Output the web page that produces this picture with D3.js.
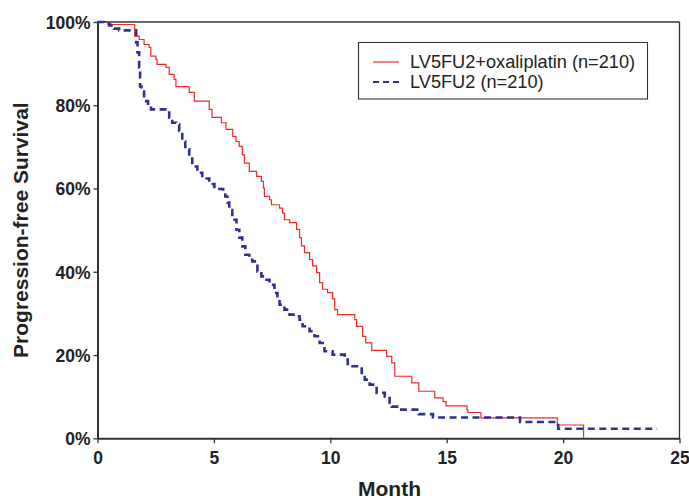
<!DOCTYPE html>
<html>
<head>
<meta charset="utf-8">
<script src="https://cdn.jsdelivr.net/npm/d3@7"></script>
<style>
  body { margin: 0; background: #fff; }
  svg { display: block; }
</style>
</head>
<body>
<svg id="chart" width="689" height="501"></svg>
<script>
// ---- data ----
const seriesNames = ["LV5FU2+oxaliplatin (n=210)", "LV5FU2 (n=210)"];
const xTicks = [0, 5, 10, 15, 20, 25];
const yTicks = [0, 20, 40, 60, 80, 100];

const oxaTime = [0, 0.57, 1.60, 1.79, 2.00, 2.22, 2.29, 2.51, 2.56, 2.94, 3.08, 3.29, 3.37, 3.94, 4.16, 4.80, 4.92, 5.32, 5.52, 5.81, 5.95, 6.09, 6.22, 6.31, 6.52, 6.83, 7.04, 7.13, 7.17, 7.39, 7.47, 7.82, 7.95, 8.03, 8.25, 8.55, 8.68, 8.76, 8.89, 9.11, 9.24, 9.41, 9.54, 9.67, 9.88, 10.10, 10.19, 10.31, 11.05, 11.13, 11.39, 11.52, 11.78, 12.42, 12.64, 12.77, 13.50, 13.80, 14.49, 14.84, 14.97, 15.87, 15.91, 16.47, 19.75, 20.88];
const oxaSurv = [100, 99.4, 96.6, 95.8, 94.6, 93.9, 91.8, 91.0, 89.8, 89.1, 87.4, 86.2, 84.5, 83.1, 81.0, 79.0, 77.1, 75.8, 74.2, 72.5, 71.3, 70.1, 68.1, 66.1, 64.1, 62.9, 61.7, 60.1, 58.1, 57.3, 56.1, 55.3, 54.1, 52.5, 51.8, 50.2, 48.2, 46.2, 44.6, 42.9, 41.4, 39.8, 37.4, 35.8, 35.0, 33.5, 30.9, 29.7, 28.5, 26.9, 24.5, 22.9, 21.1, 19.7, 18.1, 14.9, 13.3, 11.3, 9.7, 8.8, 7.8, 6.9, 6.2, 4.9, 3.2, 0];

const ctlTime = [0, 0.28, 0.50, 0.71, 0.93, 1.66, 1.72, 1.79, 1.83, 1.89, 2.00, 2.17, 2.30, 3.08, 3.21, 3.38, 3.51, 3.64, 3.77, 3.94, 4.07, 4.29, 4.50, 4.80, 5.02, 5.40, 5.49, 5.58, 5.66, 5.79, 5.97, 6.09, 6.22, 6.35, 6.52, 6.65, 6.87, 7.04, 7.17, 7.39, 7.60, 7.73, 7.82, 8.03, 8.25, 8.59, 8.68, 8.81, 9.11, 9.32, 9.54, 9.75, 10.10, 10.62, 10.75, 11.35, 11.48, 11.69, 11.99, 12.34, 12.55, 12.64, 12.98, 13.80, 14.41, 18.15, 19.79, 24.04];
const ctlSurv = [100, 99.6, 99.2, 98.4, 98.0, 95.1, 92.7, 89.1, 84.5, 83.3, 81.0, 79.8, 79.0, 77.0, 75.8, 75.4, 73.8, 71.3, 69.4, 67.7, 65.3, 63.8, 62.4, 61.1, 59.9, 59.3, 58.1, 56.6, 54.8, 52.5, 50.1, 48.2, 46.1, 44.1, 42.9, 42.5, 40.1, 38.9, 38.1, 36.9, 34.9, 33.8, 32.1, 30.9, 29.7, 29.3, 28.5, 26.9, 25.7, 24.5, 22.9, 20.9, 20.1, 18.9, 17.3, 15.7, 14.1, 12.9, 10.9, 10.0, 8.5, 7.6, 6.9, 5.8, 5.0, 3.9, 2.3, 2.3];

// ---- layout ----
const svg = d3.select("#chart");
const x = d3.scaleLinear().domain([0, 25]).range([97.5, 679.5]);
const y = d3.scaleLinear().domain([0, 100]).range([438.3, 22]);

const red = "#ee2a2a";
const blue = "#2e3192";
const axisColor = "#333";
const fontBold = "Arial, 'Liberation Sans', Helvetica, sans-serif";

// frame top & right
svg.append("line").attr("x1", x(0)).attr("x2", x(25)).attr("y1", y(100)).attr("y2", y(100))
  .attr("stroke", axisColor).attr("stroke-width", 1.3);
svg.append("line").attr("x1", x(25)).attr("x2", x(25)).attr("y1", y(100)).attr("y2", y(0))
  .attr("stroke", axisColor).attr("stroke-width", 1.3);

// axes
const xAxis = d3.axisBottom(x).tickValues(xTicks).tickSize(5).tickSizeOuter(0).tickFormat(d3.format("d"));
const gx = svg.append("g").attr("transform", `translate(0,${y(0)})`).call(xAxis);
gx.select(".domain").attr("stroke", axisColor).attr("stroke-width", 2);
gx.selectAll(".tick line").attr("stroke", axisColor).attr("stroke-width", 1.3);
gx.selectAll(".tick text").attr("fill", "#222").attr("font-family", fontBold)
  .attr("font-weight", "bold").attr("font-size", "17.5px").attr("dy", "1.0em");

const yAxis = d3.axisLeft(y).tickValues(yTicks).tickSize(4).tickSizeOuter(0).tickFormat(d => d + "%");
const gy = svg.append("g").attr("transform", `translate(${x(0)},0)`).call(yAxis);
gy.select(".domain").attr("stroke", axisColor).attr("stroke-width", 2);
gy.selectAll(".tick line").attr("stroke", axisColor).attr("stroke-width", 1.3);
gy.selectAll(".tick text").attr("fill", "#222").attr("font-family", fontBold)
  .attr("font-weight", "bold").attr("font-size", "17.5px").attr("x", -7).attr("dy", "0.36em");

// axis titles
svg.append("text").attr("x", (x(0) + x(25)) / 2 + 1).attr("y", 496)
  .attr("text-anchor", "middle").attr("font-family", fontBold).attr("font-weight", "bold")
  .attr("font-size", "21px").attr("fill", "#222").text("Month");
svg.append("text").attr("transform", `translate(28,${(y(0) + y(100)) / 2}) rotate(-90)`)
  .attr("text-anchor", "middle").attr("font-family", fontBold).attr("font-weight", "bold")
  .attr("font-size", "21px").attr("fill", "#222").text("Progression-free Survival");

// curves
const line = d3.line().x(d => x(d[0])).y(d => y(d[1])).curve(d3.curveStepAfter);
const oxaData = oxaTime.map((t, i) => [t, oxaSurv[i]]);
const ctlData = ctlTime.map((t, i) => [t, ctlSurv[i]]);

svg.append("path").datum(oxaData).attr("d", line).attr("fill", "none")
  .attr("stroke", red).attr("stroke-width", 1.2);
svg.append("path").datum(ctlData).attr("d", line).attr("fill", "none")
  .attr("stroke", blue).attr("stroke-width", 2.6).attr("stroke-dasharray", "7,4.5");

// legend
const lg = svg.append("g");
lg.append("rect").attr("x", 358.5).attr("y", 42.5).attr("width", 289).attr("height", 56.5)
  .attr("fill", "#fff").attr("stroke", "#333").attr("stroke-width", 1.1);
const legendRows = [
  { name: seriesNames[0], color: red, w: 1.2, dash: null, yy: 62 },
  { name: seriesNames[1], color: blue, w: 2.2, dash: "6,4", yy: 82 }
];
legendRows.forEach(r => {
  const l = lg.append("line").attr("x1", 373).attr("x2", 399).attr("y1", r.yy).attr("y2", r.yy)
    .attr("stroke", r.color).attr("stroke-width", r.w);
  if (r.dash) l.attr("stroke-dasharray", r.dash);
  lg.append("text").attr("x", 410).attr("y", r.yy).attr("dy", "0.35em")
    .attr("font-family", "Arial, 'Liberation Sans', Helvetica, sans-serif")
    .attr("font-size", "18.2px").attr("fill", "#222").text(r.name);
});
</script>
</body>
</html>
